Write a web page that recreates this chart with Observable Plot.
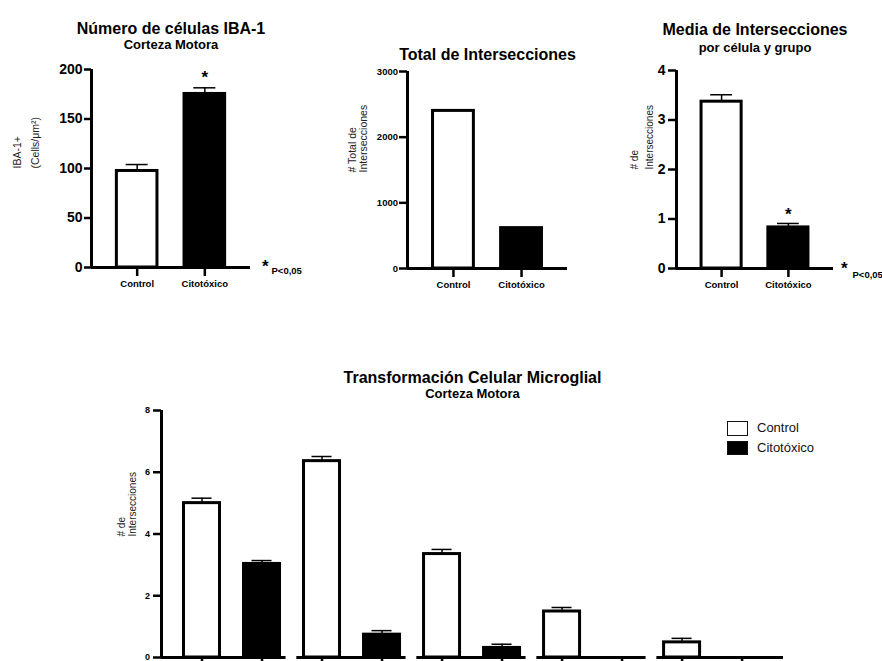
<!DOCTYPE html>
<html>
<head>
<meta charset="utf-8">
<script src="https://cdn.jsdelivr.net/npm/d3@7"></script>
<script src="https://cdn.jsdelivr.net/npm/@observablehq/plot@0.6"></script>
<style>
  html, body { margin: 0; padding: 0; background: #fff; overflow: hidden; }
  #root { position: relative; width: 882px; height: 661px; overflow: hidden; background: #fff;
          font-family: 'Liberation Sans', Arial, Helvetica, sans-serif; }
  .legend-box { position: absolute; box-sizing: border-box; border: 1.5px solid #111; }
  .legend-text { position: absolute; font-size: 13px; line-height: 14px; color: #111; white-space: nowrap; }
</style>
</head>
<body>
<div id="root"></div>
<script>
// ---------- DATA ----------
const groups = ["Control", "Citotóxico"];
const groupFills = ["white", "black"];
const pNote = ["*", "P<0,05"];

// Chart 1: Número de células IBA-1
const iba1Title = "Número de células IBA-1";
const iba1Subtitle = "Corteza Motora";
const iba1YLabel = "IBA-1+\n(Cells/μm²)";
const iba1Means = [97.5, 175.3];
const iba1Errors = [6.5, 6.2];
const iba1Stars = ["", "*"];
const iba1Ticks = [0, 50, 100, 150, 200];

// Chart 2: Total de Intersecciones
const totalTitle = "Total de Intersecciones";
const totalYLabel = "# Total de\nIntersecciones";
const totalValues = [2400, 615];
const totalTicks = [0, 1000, 2000, 3000];

// Chart 3: Media de Intersecciones
const meanTitle = "Media de Intersecciones";
const meanSubtitle = "por célula y grupo";
const meanYLabel = "# de\nIntersecciones";
const meanValues = [3.37, 0.83];
const meanErrors = [0.14, 0.08];
const meanStars = ["", "*"];
const meanTicks = [0, 1, 2, 3, 4];

// Chart 4: Transformación Celular Microglial
const trTitle = "Transformación Celular Microglial";
const trSubtitle = "Corteza Motora";
const trYLabel = "# de\nIntersecciones";
const trGroups = ["1", "2", "3", "4", "5"];
const trControl = [5.00, 6.36, 3.35, 1.49, 0.49];
const trControlErr = [0.16, 0.15, 0.15, 0.13, 0.13];
const trCito = [3.03, 0.74, 0.31, 0, 0];
const trCitoErr = [0.11, 0.13, 0.12, 0, 0];
const trTicks = [0, 2, 4, 6, 8];

// ---------- HELPERS ----------
const FONT = "'Liberation Sans', Arial, Helvetica, sans-serif";
const root = document.getElementById("root");
function place(node, left, top) {
  const wrap = document.createElement("div");
  wrap.style.cssText = `position:absolute;left:${left}px;top:${top}px;`;
  wrap.appendChild(node);
  root.appendChild(wrap);
}
const fmt = d => String(d);

function topChart(o) {
  const data = groups.map((g, i) => ({
    group: g, pos: i, value: o.values[i],
    err: o.errors ? o.errors[i] : 0, star: o.stars ? o.stars[i] : ""
  }));
  const pad = 0.675, half = 0.3, cap = 0.163;
  const xMin = -pad, xMax = groups.length - 1 + pad;
  const yMax = o.domain[1];
  const marks = [];
  groups.forEach((g, i) => {
    marks.push(Plot.rect(data.filter(d => d.group === g), {
      x1: d => d.pos - half, x2: d => d.pos + half, y1: 0, y2: "value",
      fill: groupFills[i], stroke: "black", strokeWidth: 3
    }));
  });
  if (o.errors) {
    marks.push(Plot.ruleX(data, {x: "pos", y1: "value", y2: d => d.value + d.err, stroke: "black", strokeWidth: 1.5}));
    marks.push(Plot.ruleY(data, {x1: d => d.pos - cap, x2: d => d.pos + cap, y: d => d.value + d.err,
      stroke: "black", strokeWidth: 1.5}));
  }
  if (o.stars) {
    marks.push(Plot.text(data.filter(d => d.star), {x: "pos", y: d => d.value + d.err, text: "star",
      dy: o.starDy, fontSize: 17, fontWeight: "bold", fill: "black"}));
  }
  marks.push(Plot.ruleY([0], {stroke: "black", strokeWidth: 3}));
  marks.push(Plot.ruleX([xMin], {y1: 0, y2: yMax, stroke: "black", strokeWidth: 3}));
  marks.push(Plot.axisY(o.ticks, {tickSize: o.yTickSize, tickPadding: o.yTickPadding, fontSize: o.yFont,
    fontWeight: "bold", strokeWidth: 2.5, label: null, tickFormat: fmt, fill: "black"}));
  marks.push(Plot.axisX(data.map(d => d.pos), {tickSize: 9, tickPadding: 4, fontSize: 9.5, fontWeight: "bold",
    strokeWidth: 2.5, label: null, fill: "black", tickFormat: i => groups[i]}));
  marks.push(Plot.text([o.title], {frameAnchor: "top", dy: o.titleDy, text: d => d, fontSize: 16, fontWeight: "bold", fill: "black"}));
  if (o.subtitle) {
    marks.push(Plot.text([o.subtitle], {frameAnchor: "top", dy: o.subDy, text: d => d, fontSize: 13, fontWeight: "bold", fill: "black"}));
  }
  marks.push(Plot.text([o.yLabel], {frameAnchor: "left", rotate: -90, dx: o.yLabelDx, dy: o.yLabelDy || 0,
    text: d => d, fontSize: o.yLabelSize, lineHeight: o.yLabelLH, fill: "#222"}));
  if (o.note) {
    marks.push(Plot.text([pNote[0]], {frameAnchor: "bottom-right", dx: o.note[0], dy: o.note[1], text: d => d,
      fontSize: 17, fontWeight: "bold", fill: "black"}));
    marks.push(Plot.text([pNote[1]], {frameAnchor: "bottom-right", textAnchor: "start", dx: o.note[2], dy: o.note[3],
      text: d => d, fontSize: 9.5, fontWeight: "bold", fill: "black"}));
  }
  return Plot.plot({
    width: o.width, height: o.height,
    marginLeft: o.ml, marginRight: o.mr, marginTop: o.mt, marginBottom: o.mb,
    x: {type: "linear", domain: [xMin, xMax]},
    y: {domain: o.domain},
    style: {fontFamily: FONT, color: "black", background: "transparent", overflow: "visible"},
    marks
  });
}

// ---------- CHART 1 ----------
place(topChart({
  values: iba1Means, errors: iba1Errors, stars: iba1Stars, ticks: iba1Ticks, domain: [0, 200],
  title: iba1Title, subtitle: iba1Subtitle, yLabel: iba1YLabel,
  width: 320, height: 300, ml: 91, mr: 70, mt: 69, mb: 33,
  yTickSize: 7, yTickPadding: 2, yFont: 14, starDy: -10,
  titleDy: -47, subDy: -30, yLabelDx: -67, yLabelSize: 10.5, yLabelLH: 1.65,
  note: [18, 4, 21, 6]
}), 0, 0);

// ---------- CHART 2 ----------
place(topChart({
  values: totalValues, ticks: totalTicks, domain: [0, 3000],
  title: totalTitle, yLabel: totalYLabel,
  width: 280, height: 300, ml: 87, mr: 33, mt: 71, mb: 32,
  yTickSize: 8, yTickPadding: 1.5, yFont: 9.5,
  titleDy: -23, yLabelDx: -50, yLabelDy: 2.5, yLabelSize: 10.5, yLabelLH: 1.05
}), 320, 0);

// ---------- CHART 3 ----------
place(topChart({
  values: meanValues, errors: meanErrors, stars: meanStars, ticks: meanTicks, domain: [0, 4],
  title: meanTitle, subtitle: meanSubtitle, yLabel: meanYLabel,
  width: 282, height: 300, ml: 76, mr: 49, mt: 70, mb: 32,
  yTickSize: 8, yTickPadding: 3, yFont: 14, starDy: -8.5,
  titleDy: -46.5, subDy: -28, yLabelDx: -36, yLabelSize: 10, yLabelLH: 1.5,
  note: [14, 5, 19, 9]
}), 600, 0);

// ---------- CHART 4 ----------
(function () {
  const trData = trGroups.flatMap((g, gi) => [
    {group: g, cond: groups[0], pos: 2 * gi, value: trControl[gi], err: trControlErr[gi]},
    {group: g, cond: groups[1], pos: 2 * gi + 1, value: trCito[gi], err: trCitoErr[gi]}
  ]);
  const shown = trData.filter(d => d.value > 0);
  const xMin = -0.675, xMax = 2 * trGroups.length - 1 + 0.69;
  const yMax = 8;
  const segs = trGroups.map((g, gi) => ({
    x1: gi === 0 ? xMin : 2 * gi - 0.42,
    x2: gi === trGroups.length - 1 ? xMax : 2 * gi + 1.4
  }));
  const half = 0.3, cap = 0.167;
  const marks = [];
  groups.forEach((c, i) => {
    marks.push(Plot.rect(shown.filter(d => d.cond === c), {
      x1: d => d.pos - half, x2: d => d.pos + half, y1: 0, y2: "value",
      fill: groupFills[i], stroke: "black", strokeWidth: 3
    }));
  });
  marks.push(Plot.ruleX(shown, {x: "pos", y1: "value", y2: d => d.value + d.err, stroke: "black", strokeWidth: 1.5}));
  marks.push(Plot.ruleY(shown, {x1: d => d.pos - cap, x2: d => d.pos + cap, y: d => d.value + d.err, stroke: "black", strokeWidth: 1.5}));
  marks.push(Plot.ruleY(segs, {x1: "x1", x2: "x2", y: 0, stroke: "black", strokeWidth: 3}));
  marks.push(Plot.ruleX([xMin], {y1: 0, y2: yMax, stroke: "black", strokeWidth: 3}));
  marks.push(Plot.axisY(trTicks, {tickSize: 8, tickPadding: 3.5, fontSize: 9, fontWeight: "bold", strokeWidth: 2.5,
    label: null, tickFormat: fmt, fill: "black"}));
  marks.push(Plot.axisX(trData.map(d => d.pos), {tickSize: 8, tickFormat: () => "", strokeWidth: 2.5, label: null}));
  marks.push(Plot.text([trTitle], {frameAnchor: "top", dy: -39, text: d => d, fontSize: 16, fontWeight: "bold", fill: "black"}));
  marks.push(Plot.text([trSubtitle], {frameAnchor: "top", dy: -22, text: d => d, fontSize: 13, fontWeight: "bold", fill: "black"}));
  marks.push(Plot.text([trYLabel], {frameAnchor: "left", rotate: -90, dx: -35, dy: 2.5, text: d => d,
    fontSize: 10, lineHeight: 1.1, fill: "#222"}));
  place(Plot.plot({
    width: 882, height: 340,
    marginLeft: 161, marginRight: 99, marginTop: 70, marginBottom: 23,
    x: {type: "linear", domain: [xMin, xMax]},
    y: {domain: [0, yMax]},
    style: {fontFamily: FONT, color: "black", background: "transparent", overflow: "visible"},
    marks
  }), 0, 340);

  // Legend (HTML)
  groups.forEach((g, i) => {
    const box = document.createElement("div");
    box.className = "legend-box";
    box.style.cssText = `left:727px;top:${421 + i * 19.5}px;width:21px;height:14.5px;background:${groupFills[i]};`;
    root.appendChild(box);
    const t = document.createElement("div");
    t.className = "legend-text";
    t.style.cssText = `left:757px;top:${421 + i * 19.5}px;`;
    t.textContent = g;
    root.appendChild(t);
  });
})();
</script>
</body>
</html>
